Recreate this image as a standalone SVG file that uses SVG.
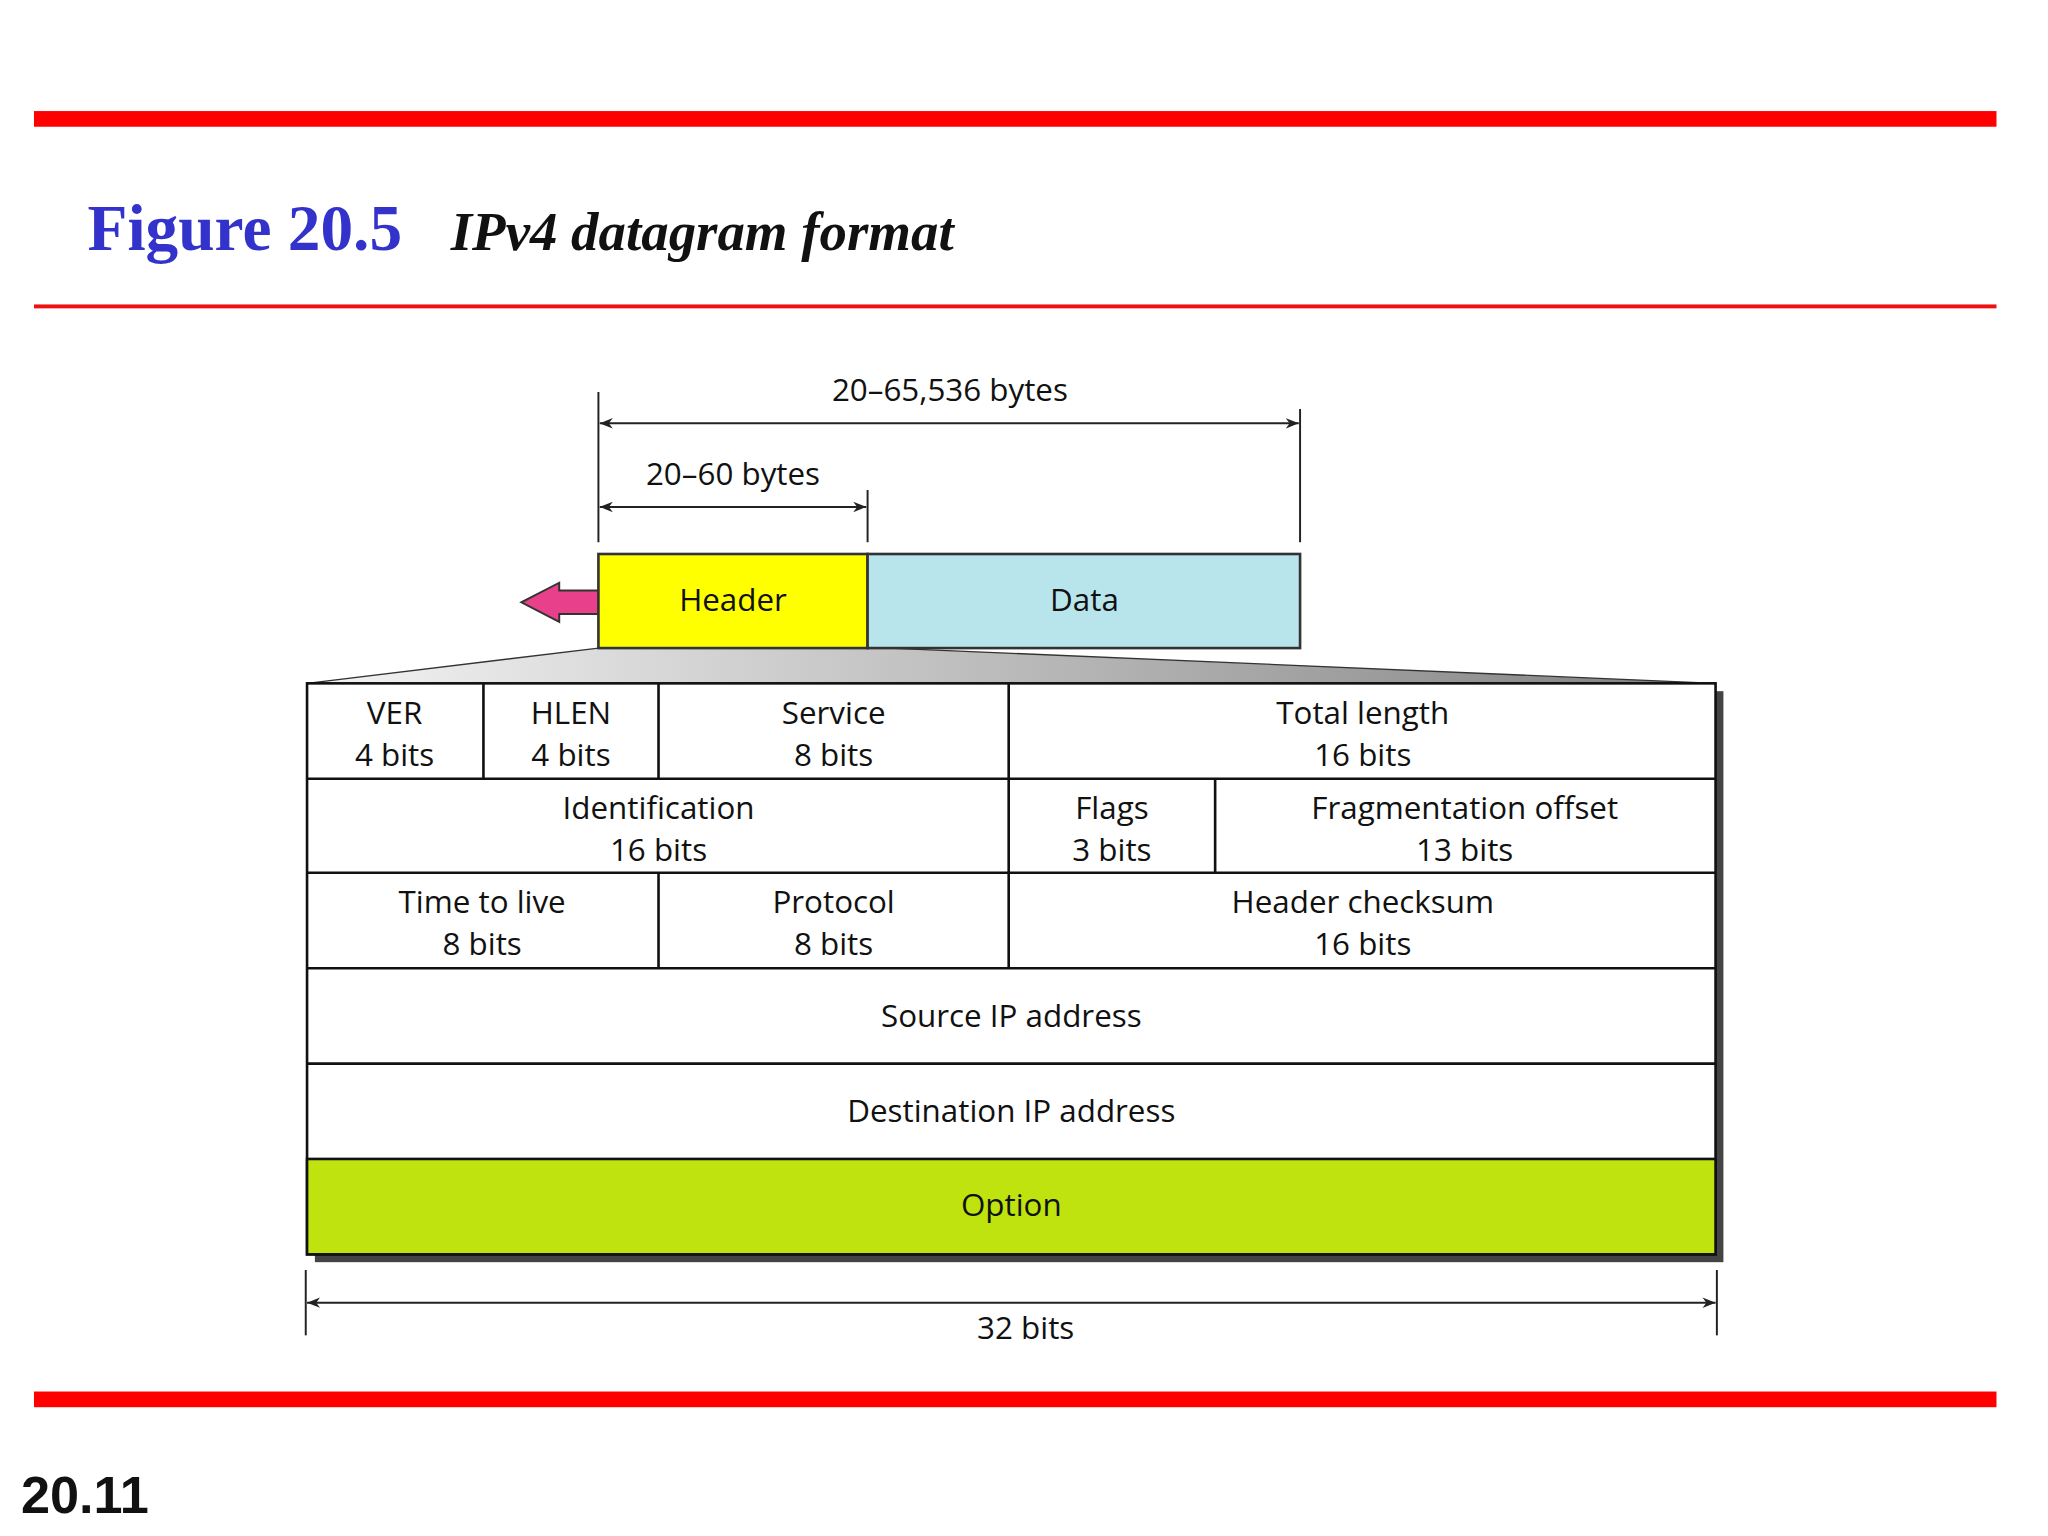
<svg xmlns="http://www.w3.org/2000/svg" width="2048" height="1536" viewBox="0 0 2048 1536">
<style>
.t{font-family:"Open Sans","Noto Sans",sans-serif;font-size:24px;fill:#111;text-anchor:middle}
.ln{stroke:#111;stroke-width:2}
.dim{stroke:#222;stroke-width:1.5;fill:none}
</style>
<defs>
<marker id="ah" viewBox="0 0 10 10" refX="10" refY="5" markerWidth="10" markerHeight="10" orient="auto-start-reverse" markerUnits="userSpaceOnUse"><path d="M0,1 L10,5 L0,9 L3,5 Z" fill="#222"/></marker>
<linearGradient id="g" x1="0" x2="1" y1="0" y2="0"><stop offset="0" stop-color="#f4f4f4"/><stop offset="1" stop-color="#808080"/></linearGradient>
</defs>
<rect width="2048" height="1536" fill="#fff"/>
<g transform="scale(1.3066)">
<rect x="26" y="85" width="1502" height="12" fill="#ff0000"/>
<rect x="26" y="233" width="1502" height="3" fill="#ee1111"/>
<rect x="26" y="1065" width="1502" height="12" fill="#ff0000"/>
<text x="67" y="191" font-family="'Liberation Serif',serif" font-weight="bold" font-size="50" fill="#3333cc">Figure 20.5</text>
<text x="345" y="191" font-family="'Liberation Serif',serif" font-weight="bold" font-style="italic" font-size="42" fill="#111">IPv4 datagram format</text>
<text x="16" y="1158" font-family="'Liberation Sans',sans-serif" font-weight="bold" font-size="40" fill="#111">20.11</text>
<g id="dims">
<line class="dim" x1="458" y1="300" x2="458" y2="415"/>
<line class="dim" x1="995" y1="313" x2="995" y2="415"/>
<line class="dim" x1="664" y1="375" x2="664" y2="415"/>
<line class="dim" x1="459" y1="324" x2="994" y2="324" marker-start="url(#ah)" marker-end="url(#ah)"/>
<line class="dim" x1="459" y1="388" x2="663" y2="388" marker-start="url(#ah)" marker-end="url(#ah)"/>
<text class="t" x="727" y="307">20–65,536 bytes</text>
<text class="t" x="561" y="371">20–60 bytes</text>
<line class="dim" x1="234" y1="972" x2="234" y2="1022"/>
<line class="dim" x1="1314" y1="972" x2="1314" y2="1022"/>
<line class="dim" x1="235" y1="997" x2="1313" y2="997" marker-start="url(#ah)" marker-end="url(#ah)"/>
<text class="t" x="785" y="1025">32 bits</text>
</g>
<polygon points="458,496 680,496 1313,523 235,523" fill="url(#g)" stroke="#333" stroke-width="1"/>
<path d="M458,452 L428,452 L428,446 L399,461 L428,476 L428,470 L458,470 Z" fill="#e8408a" stroke="#333" stroke-width="1.5"/>
<g id="header"><rect x="458" y="424" width="206" height="72" fill="#ffff00" stroke="#333" stroke-width="2"/><text class="t" x="561" y="468">Header</text></g>
<g id="data"><rect x="664" y="424" width="331" height="72" fill="#b8e4ec" stroke="#333" stroke-width="2"/><text class="t" x="830" y="468">Data</text></g>
<rect x="241" y="529" width="1078" height="437" fill="#444"/>
<g id="table">
<rect x="235" y="523" width="1078" height="437" fill="#ffffff" class="ln"/>
<rect x="235" y="887" width="1078" height="73" fill="#bfe30f" class="ln"/>
<line class="ln" x1="235" y1="596" x2="1313" y2="596"/>
<line class="ln" x1="235" y1="668" x2="1313" y2="668"/>
<line class="ln" x1="235" y1="741" x2="1313" y2="741"/>
<line class="ln" x1="235" y1="814" x2="1313" y2="814"/>
<line class="ln" x1="370" y1="523" x2="370" y2="596"/>
<line class="ln" x1="504" y1="523" x2="504" y2="596"/>
<line class="ln" x1="772" y1="523" x2="772" y2="741"/>
<line class="ln" x1="930" y1="596" x2="930" y2="668"/>
<line class="ln" x1="504" y1="668" x2="504" y2="741"/>
<text class="t" x="302" y="554">VER</text><text class="t" x="302" y="586">4 bits</text>
<text class="t" x="437" y="554">HLEN</text><text class="t" x="437" y="586">4 bits</text>
<text class="t" x="638" y="554">Service</text><text class="t" x="638" y="586">8 bits</text>
<text class="t" x="1043" y="554">Total length</text><text class="t" x="1043" y="586">16 bits</text>
<text class="t" x="504" y="627">Identification</text><text class="t" x="504" y="659">16 bits</text>
<text class="t" x="851" y="627">Flags</text><text class="t" x="851" y="659">3 bits</text>
<text class="t" x="1121" y="627">Fragmentation offset</text><text class="t" x="1121" y="659">13 bits</text>
<text class="t" x="369" y="699">Time to live</text><text class="t" x="369" y="731">8 bits</text>
<text class="t" x="638" y="699">Protocol</text><text class="t" x="638" y="731">8 bits</text>
<text class="t" x="1043" y="699">Header checksum</text><text class="t" x="1043" y="731">16 bits</text>
<text class="t" x="774" y="786">Source IP address</text>
<text class="t" x="774" y="859">Destination IP address</text>
<text class="t" x="774" y="931">Option</text>
</g>
</g>
</svg>
